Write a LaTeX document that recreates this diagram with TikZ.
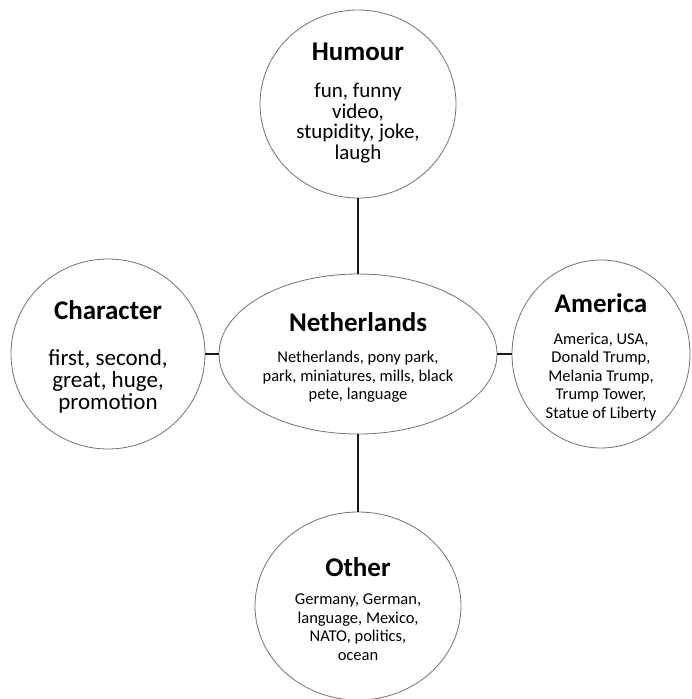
\documentclass[tikz,border=0pt]{standalone}
\usepackage{fontspec}
\setmainfont{Carlito}
\usetikzlibrary{shapes.geometric}
\tikzset{
  bubble/.style={draw=black!55, line width=0.8pt, ellipse, inner sep=0pt, fill=white},
  link/.style={draw=black!90, line width=2pt},
  ttl/.style={align=center, inner sep=0pt, font=\fontsize{27}{27}\selectfont\bfseries},
  bodybig/.style={align=center, inner sep=0pt, font=\fontsize{21}{20.5}\selectfont},
  bodysmall/.style={align=center, inner sep=0pt, font=\fontsize{16.5}{18.5}\selectfont}
}
\begin{document}
\begin{tikzpicture}[x=1pt, y=-1pt]
\useasboundingbox (0,0) rectangle (691,699);
\fill[white] (0,0) rectangle (691,699);
% bubbles
\node[bubble, minimum width=196pt, minimum height=188pt] (hum) at (358,104) {};
\node[bubble, minimum width=278pt, minimum height=160pt] (neth) at (358,354) {};
\node[bubble, minimum width=194pt, minimum height=190pt] (char) at (108,354) {};
\node[bubble, minimum width=178pt, minimum height=188pt] (amer) at (601,354) {};
\node[bubble, minimum width=206pt, minimum height=188pt] (oth) at (358,606) {};
% connectors
\draw[link] (hum.south) -- (neth.north);
\draw[link] (neth.south) -- (oth.north);
\draw[link] (char.east) -- (neth.west);
\draw[link] (neth.east) -- (amer.west);
% texts
\node[ttl] (humT) at (358,52) {Humour};
\node[bodybig] (humB) at (358,123) {fun, funny\\video,\\stupidity, joke,\\laugh};
\node[ttl] (nethT) at (358,322) {Netherlands};
\node[bodysmall] (nethB) at (358,377) {Netherlands, pony park,\\park, miniatures, mills, black\\pete, language};
\node[ttl] (charT) at (108,310) {Character};
\node[bodybig, font=\fontsize{23}{22}\selectfont] (charB) at (108,381) {first, second,\\great, huge,\\promotion};
\node[ttl] (amerT) at (601,303) {America};
\node[bodysmall] (amerB) at (601,377) {America, USA,\\Donald Trump,\\Melania Trump,\\Trump Tower,\\Statue of Liberty};
\node[ttl] (othT) at (358,567) {Other};
\node[bodysmall] (othB) at (358,627) {Germany, German,\\language, Mexico,\\NATO, politics,\\ocean};
\end{tikzpicture}
\end{document}
